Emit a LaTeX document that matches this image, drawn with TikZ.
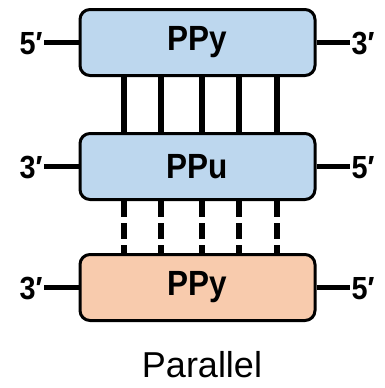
\documentclass[tikz,border=0pt]{standalone}
\usepackage{fontspec}
\setmainfont{Liberation Sans}
\newfontfamily\labelfont[FakeStretch=0.9]{Liberation Sans}
\definecolor{strandblue}{HTML}{BDD7EE}
\definecolor{strandorange}{HTML}{F8CBAD}
\tikzset{
  strand/.style={draw=black, line width=3pt, rounded corners=10pt,
    minimum width=235pt, minimum height=66pt, inner sep=0pt,
    font=\labelfont\fontsize{35}{38}\selectfont\bfseries},
  endlabel/.style={inner sep=1.5pt, font=\labelfont\fontsize{32}{35}\selectfont\bfseries},
  tail/.style={line width=5.5pt},
  pair/.style={line width=5.5pt},
  weakpair/.style={line width=5.5pt, dash pattern=on 16pt off 6pt},
}
\begin{document}
\begin{tikzpicture}[x=1pt,y=-1pt]
\useasboundingbox (0,0) rectangle (385,388);

% the three strands
\node[strand, fill=strandblue]   (top) at (197.5,42.5)  {PPy};
\node[strand, fill=strandblue]   (mid) at (197.5,166.5) {PPu};
\node[strand, fill=strandorange] (bot) at (197.5,287.5) {PPy};

% strand ends
\node[endlabel] (t5) at (31,44)  {5′};
\node[endlabel] (t3) at (363,44) {3′};
\node[endlabel] (m3) at (31,168) {3′};
\node[endlabel] (m5) at (363,168) {5′};
\node[endlabel] (b3) at (31,289) {3′};
\node[endlabel] (b5) at (363,289) {5′};

\draw[tail] (t5.east |- top.west) -- (top.west);
\draw[tail] (top.east) -- (t3.west |- top.east);
\draw[tail] (m3.east |- mid.west) -- (mid.west);
\draw[tail] (mid.east) -- (m5.west |- mid.east);
\draw[tail] (b3.east |- bot.west) -- (bot.west);
\draw[tail] (bot.east) -- (b5.west |- bot.east);

% base pairing between strands
\foreach \x in {124,161,202,239,277} {
  \draw[pair] (top.south -| \x,0) -- (mid.north -| \x,0);
  \draw[weakpair] (mid.south -| \x,0) -- (bot.north -| \x,0);
}

\node[font=\fontsize{36}{39}\selectfont] (cap) at (202,365) {Parallel};
\end{tikzpicture}
\end{document}
